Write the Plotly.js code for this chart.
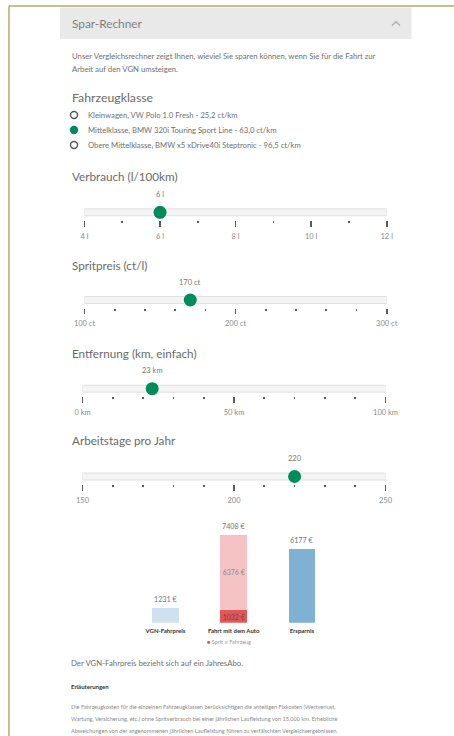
<!DOCTYPE html>
<html>
<head>
<meta charset="utf-8">
<script src="https://cdn.plot.ly/plotly-3.0.1.min.js"></script>
<style>
html,body{margin:0;padding:0;background:#fff;}
#chart{width:454px;height:736px;}
</style>
</head>
<body>
<div id="chart"></div>
<script>
// ---------- DATA ----------
const pageTitle = 'Spar-Rechner';
const introLines = ['Unser Vergleichsrechner zeigt Ihnen, wieviel Sie sparen können, wenn Sie für die Fahrt zur',
                    'Arbeit auf den VGN umsteigen.'];
const classTitle = 'Fahrzeugklasse';
const classOptions = ['Kleinwagen, VW Polo 1.0 Fresh - 25,2 ct/km',
                      'Mittelklasse, BMW 320i Touring Sport Line - 63,0 ct/km',
                      'Obere Mittelklasse, BMW x5 xDrive40i Steptronic - 96,5 ct/km'];
const selectedClass = 1;

const sliderTitles = ['Verbrauch (l/100km)', 'Spritpreis (ct/l)', 'Entfernung (km, einfach)', 'Arbeitstage pro Jahr'];
const sliderMin = [4, 100, 0, 150];
const sliderMax = [12, 300, 100, 250];
const sliderValues = [6, 170, 23, 220];
const sliderUnits = [' l', ' ct', ' km', ''];
const sliderMajorTicks = [[4, 6, 8, 10, 12], [100, 200, 300], [0, 50, 100], [150, 200, 250]];
const sliderMinorStep = [1, 20, 10, 10];

const barCategories = ['VGN-Fahrpreis', 'Fahrt mit dem Auto', 'Ersparnis'];
const vgnFare = [1231];
const spritCost = [1032];
const fahrzeugCost = [6376];
const savings = [6177];
const stackNames = ['Sprit', 'Fahrzeug'];

const footNote = 'Der VGN-Fahrpreis bezieht sich auf ein JahresAbo.';
const notesTitle = 'Erläuterungen';
const notesLines = ['Die Fahrzeugkosten für die einzelnen Fahrzeugklassen berücksichtigen die anteiligen Fixkosten (Wertverlust,',
                    'Wartung, Versicherung, etc.) ohne Spritverbrauch bei einer jährlichen Laufleistung von 15.000 km. Erhebliche',
                    'Abweichungen von der angenommenen jährlichen Laufleistung führen zu verfälschten Vergleichsergebnissen.'];

// ---------- LAYOUT HELPERS ----------
const W = 454, H = 736;
const X = p => p / W;
const Y = p => 1 - p / H;
const FONT = 'Lato, "Noto Sans", sans-serif';
const GREEN = '#008c5a';
const TXT = '#6f6f6f';

const traces = [];
const shapes = [];
const annotations = [];
const layout = {
  width: W, height: H,
  margin: {l: 0, r: 0, t: 0, b: 0},
  paper_bgcolor: '#fff', plot_bgcolor: 'rgba(0,0,0,0)',
  font: {family: FONT, color: TXT},
  showlegend: false,
  barmode: 'stack',
  bargap: 0.61,
  shapes: shapes,
  annotations: annotations
};

function text(str, px, py, size, color, opts) {
  annotations.push(Object.assign({
    xref: 'paper', yref: 'paper', x: X(px), y: Y(py),
    xanchor: 'left', yanchor: 'middle', showarrow: false,
    text: str, font: {family: FONT, size: size, color: color}
  }, opts || {}));
}

// Frame + header
shapes.push({type: 'line', xref: 'paper', yref: 'paper', x0: X(9), x1: 1, y0: Y(6), y1: Y(6), line: {color: '#bca66c', width: 1.5}});
shapes.push({type: 'line', xref: 'paper', yref: 'paper', x0: X(9), x1: X(9), y0: Y(6), y1: 0, line: {color: '#bca66c', width: 1.5}});
shapes.push({type: 'rect', xref: 'paper', yref: 'paper', x0: X(60), x1: X(411.5), y0: Y(39), y1: Y(7.5), fillcolor: '#e9e9e9', line: {width: 0}, layer: 'below'});
shapes.push({type: 'path', xref: 'paper', yref: 'paper',
  path: `M ${X(392)} ${Y(25.5)} L ${X(396)} ${Y(21.5)} L ${X(400)} ${Y(25.5)}`, line: {color: '#a8a8a8', width: 1.2}});
text(pageTitle, 70, 23.5, 11.8, '#7f7f7f');
introLines.forEach((l, i) => text(l, 70, 56 + i * 13, 7.75, TXT));
text(classTitle, 70, 97.5, 12.3, '#6a6a6a');

// Radio list
layout.xaxis6 = {domain: [X(70), X(440)], range: [-4, 366], visible: false, fixedrange: true, anchor: 'y6'};
layout.yaxis6 = {domain: [Y(152.5), Y(107.5)], range: [-0.5, 2.5], visible: false, fixedrange: true, anchor: 'x6'};
const radioY = classOptions.map((_, i) => classOptions.length - 1 - i);
traces.push({
  type: 'scatter', xaxis: 'x6', yaxis: 'y6', mode: 'markers',
  x: classOptions.map(() => 0), y: radioY,
  marker: {size: 7,
    color: classOptions.map((_, i) => i === selectedClass ? GREEN : '#fff'),
    line: {width: 1.4, color: classOptions.map((_, i) => i === selectedClass ? GREEN : '#555')}},
  cliponaxis: false, hoverinfo: 'skip'
});
classOptions.forEach((o, i) => annotations.push({
  xref: 'x6', yref: 'y6', x: 12, y: radioY[i], xanchor: 'left', yanchor: 'middle',
  showarrow: false, text: o, font: {family: FONT, size: 7.7, color: TXT}
}));

// Sliders
const sliderGeom = [
  {l: 84.5, r: 386.7, title: 176, track: 212.3},
  {l: 84.5, r: 386.7, title: 264.5, track: 300},
  {l: 82.5, r: 385.5, title: 352.5, track: 388.7},
  {l: 82.5, r: 385.5, title: 440, track: 476.5}
];
sliderTitles.forEach((t, i) => {
  const n = i + 2, g = sliderGeom[i];
  text(t, 70, g.title, 11.7, '#6a6a6a');
  layout['xaxis' + n] = {
    domain: [X(g.l), X(g.r)], range: [sliderMin[i], sliderMax[i]], anchor: 'y' + n,
    tickmode: 'array', tickvals: sliderMajorTicks[i],
    ticktext: sliderMajorTicks[i].map(v => v + sliderUnits[i]),
    ticks: 'outside', ticklen: 5.5, tickwidth: 1.7, tickcolor: '#5a5a5a',
    tickfont: {family: FONT, size: 7.5, color: '#8a8a8a'}, ticklabelstandoff: 3,
    minor: {dtick: sliderMinorStep[i], tick0: sliderMin[i], ticks: 'outside', ticklen: 2, tickwidth: 1.7, tickcolor: '#5a5a5a', showgrid: false},
    showgrid: false, zeroline: false, showline: false, fixedrange: true
  };
  layout['yaxis' + n] = {domain: [Y(g.track + 7.7), Y(g.track - 7.7)], range: [-1, 1], visible: false, fixedrange: true, anchor: 'x' + n};
  shapes.push({type: 'rect', xref: 'x' + n, yref: 'y' + n, x0: sliderMin[i], x1: sliderMax[i], y0: -0.45, y1: 0.45,
    fillcolor: '#f4f4f4', line: {color: '#e0e0e0', width: 1}, layer: 'below'});
  traces.push({type: 'scatter', xaxis: 'x' + n, yaxis: 'y' + n, mode: 'markers',
    x: [sliderValues[i]], y: [0], marker: {size: 13, color: GREEN}, cliponaxis: false, hoverinfo: 'skip'});
  annotations.push({xref: 'x' + n, yref: 'y' + n, x: sliderValues[i], y: 0, yshift: 18,
    xanchor: 'center', yanchor: 'middle', showarrow: false,
    text: sliderValues[i] + sliderUnits[i], font: {family: FONT, size: 7.5, color: '#777'}});
});

// Bar chart
layout.xaxis = {domain: [X(131.4), X(336)], type: 'category', range: [-0.5, 2.5], anchor: 'y',
  tickmode: 'array', tickvals: barCategories, ticktext: barCategories.map(c => '<b>' + c + '</b>'),
  ticks: '', tickfont: {family: FONT, size: 6, color: '#333'}, ticklabelstandoff: 3,
  showgrid: false, zeroline: false, showline: false, fixedrange: true};
layout.yaxis = {domain: [Y(622.7), Y(527.5)], range: [0, 8000], visible: false, fixedrange: true, anchor: 'x'};

traces.push({type: 'bar', name: 'VGN', x: [barCategories[0]], y: vgnFare, marker: {color: '#cfe1ef'}, hoverinfo: 'skip'});
traces.push({type: 'bar', name: stackNames[0], x: [barCategories[1]], y: spritCost, marker: {color: '#e05757'},
  text: spritCost.map(v => v + ' €'), textposition: 'inside', insidetextanchor: 'middle', constraintext: 'none', textangle: 0,
  textfont: {family: FONT, size: 7, color: '#8e3b3b'}, hoverinfo: 'skip'});
traces.push({type: 'bar', name: stackNames[1], x: [barCategories[1]], y: fahrzeugCost, marker: {color: '#f5c3c4'},
  text: fahrzeugCost.map(v => v + ' €'), textposition: 'inside', insidetextanchor: 'middle', constraintext: 'none', textangle: 0,
  textfont: {family: FONT, size: 7, color: '#8a8a8a'}, hoverinfo: 'skip'});
traces.push({type: 'bar', name: 'Ersparnis', x: [barCategories[2]], y: savings, marker: {color: '#7eb1d2'}, hoverinfo: 'skip'});

const totals = [vgnFare[0], spritCost[0] + fahrzeugCost[0], savings[0]];
totals.forEach((t, i) => annotations.push({xref: 'x', yref: 'y', x: barCategories[i], y: t, yshift: 2,
  xanchor: 'center', yanchor: 'bottom', showarrow: false, text: t + ' €',
  font: {family: FONT, size: 7.2, color: '#777'}}));

text(`<span style="color:#e05757">■</span> ${stackNames[0]} <span style="color:#f5c3c4">■</span> ${stackNames[1]}`,
  229, 641.7, 5.5, '#999', {xanchor: 'center'});

// Footer text
text(footNote, 69, 663.3, 7.8, TXT);
text('<b>' + notesTitle + '</b>', 69, 686.7, 6, '#333');
notesLines.forEach((l, i) => text(l, 69, 706 + i * 12.2, 5.6, '#8a8a8a'));

Plotly.newPlot('chart', traces, layout, {staticPlot: true, displayModeBar: false});
</script>
</body>
</html>
